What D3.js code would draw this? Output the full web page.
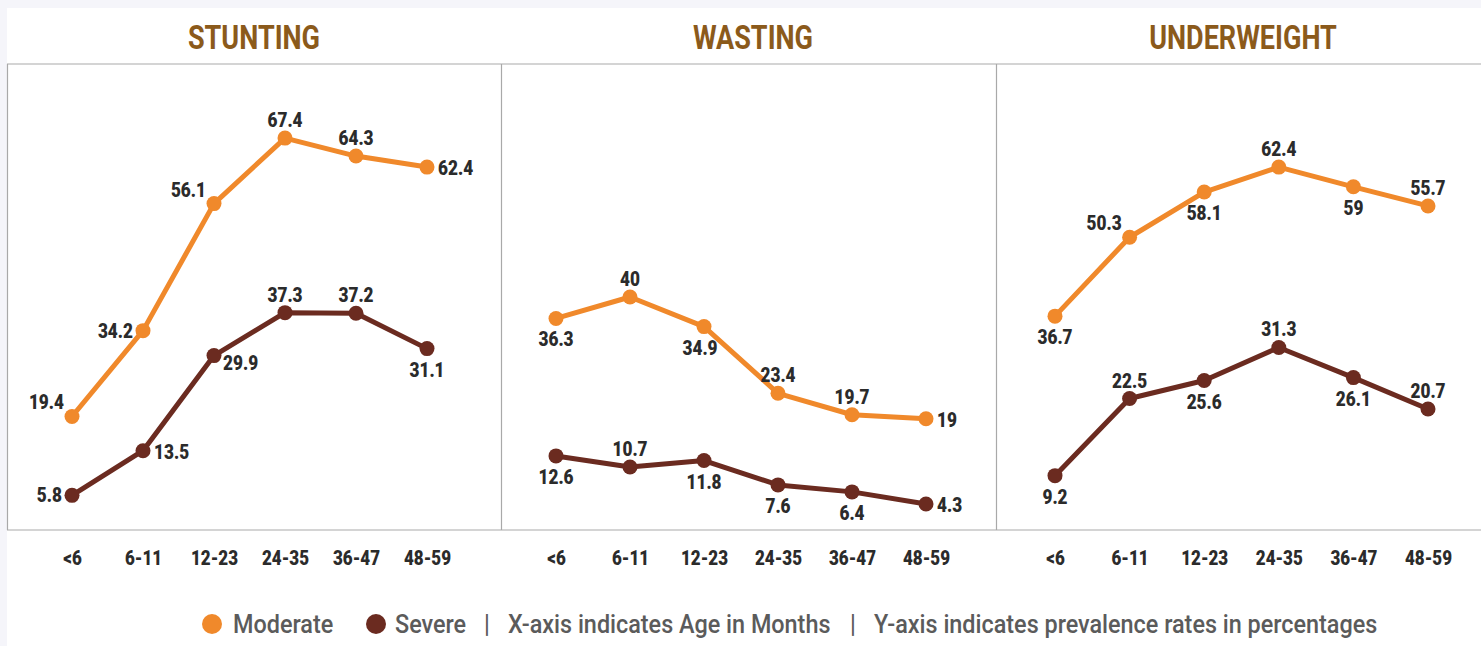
<!DOCTYPE html>
<html>
<head>
<meta charset="utf-8">
<script src="https://cdn.jsdelivr.net/npm/d3@7"></script>
<style>
  html, body { margin: 0; padding: 0; background: #f5f5fa; }
  svg { display: block; }
</style>
</head>
<body>
<svg id="chart" width="1481" height="646"></svg>
<script>
// age groups (months)
const ageGroups = ["<6", "6-11", "12-23", "24-35", "36-47", "48-59"]

const panelTitles = ["STUNTING", "WASTING", "UNDERWEIGHT"]

const stuntingModerate = [19.4, 34.2, 56.1, 67.4, 64.3, 62.4]
const stuntingSevere = [5.8, 13.5, 29.9, 37.3, 37.2, 31.1]
const wastingModerate = [36.3, 40, 34.9, 23.4, 19.7, 19]
const wastingSevere = [12.6, 10.7, 11.8, 7.6, 6.4, 4.3]
const underweightModerate = [36.7, 50.3, 58.1, 62.4, 59, 55.7]
const underweightSevere = [9.2, 22.5, 25.6, 31.3, 26.1, 20.7]

// where each value label sits relative to its dot
const stuntingModLabels = ["al", "l", "al", "a", "a", "r"]
const stuntingSevLabels = ["l", "r", "br", "a", "a", "b"]
const wastingModLabels = ["b", "a", "bl", "a", "a", "r"]
const wastingSevLabels = ["b", "a", "b", "b", "b", "r"]
const underweightModLabels = ["b", "al", "b", "a", "b", "a"]
const underweightSevLabels = ["b", "a", "b", "a", "b", "a"]

const panels = [
    {title: panelTitles[0], x0: 7, x1: 501, cx: 254, pad: [65, 74], series: [
        {name: "Moderate", values: stuntingModerate, labels: stuntingModLabels},
        {name: "Severe", values: stuntingSevere, labels: stuntingSevLabels}]},
    {title: panelTitles[1], x0: 501, x1: 996, cx: 753, pad: [55, 70], series: [
        {name: "Moderate", values: wastingModerate, labels: wastingModLabels},
        {name: "Severe", values: wastingSevere, labels: wastingSevLabels}]},
    {title: panelTitles[2], x0: 996, x1: 1481, cx: 1243, pad: [59, 53], series: [
        {name: "Moderate", values: underweightModerate, labels: underweightModLabels},
        {name: "Severe", values: underweightSevere, labels: underweightSevLabels}]}
]

const colors = {Moderate: "#f0892b", Severe: "#6b2b20"}
const font = "Roboto, 'Open Sans', sans-serif"

const svg = d3.select("#chart")
const plotTop = 64, plotBottom = 530

svg.append("rect")
    .attr("x", 7).attr("y", 8)
    .attr("width", 1481 - 7).attr("height", 646 - 8)
    .attr("fill", "#fff")

// condensed-looking text: draw normally then squeeze horizontally
function label (g, x, y, text, opts) {
    const o = Object.assign({size: 20, weight: 900, fill: "#2b2b2b", anchor: "middle", sx: 0.86}, opts)
    return g.append("g")
        .attr("transform", "translate(" + x + "," + y + ") scale(" + o.sx + ",1)")
        .append("text")
        .attr("text-anchor", o.anchor)
        .attr("font-family", font)
        .attr("font-size", o.size)
        .attr("font-weight", o.weight)
        .attr("fill", o.fill)
        .text(text)
}

const y = d3.scaleLinear().domain([0, 80]).range([plotBottom - 1, plotTop + 1])

const offsets = {
    a: [0, -11, "middle"], b: [0, 28, "middle"], l: [-10, 7, "end"], r: [11, 8, "start"],
    al: [-8, -7, "end"], bl: [-4, 28, "middle"], br: [9, 14, "start"]
}

// frame
const frame = svg.append("g").attr("stroke", "#a9a9a9").attr("stroke-width", 1.2).attr("fill", "none")
frame.append("line").attr("x1", 7).attr("x2", 1481).attr("y1", plotTop).attr("y2", plotTop)
frame.append("line").attr("x1", 7).attr("x2", 1481).attr("y1", plotBottom).attr("y2", plotBottom)
;[7.5, 501.5, 996.5].forEach(x => {
    frame.append("line").attr("x1", x).attr("x2", x).attr("y1", plotTop).attr("y2", plotBottom)
})

panels.forEach(p => {
    const g = svg.append("g")
    const x = d3.scalePoint().domain(ageGroups)
        .range([p.x0 + p.pad[0], p.x1 - p.pad[1]])

    label(g, p.cx, 49, p.title, {size: 33, weight: 700, fill: "#8b5a1b", sx: 0.82})

    // x axis labels
    const axis = g.append("g")
        .attr("transform", "translate(0," + plotBottom + ")")
        .call(d3.axisBottom(x).tickSize(0).tickPadding(0))
    axis.select(".domain").remove()
    axis.selectAll(".tick text").remove()
    axis.selectAll(".tick").each(function (d) {
        label(d3.select(this), 0, 35, d, {size: 20, sx: 0.85})
    })

    const line = d3.line().x((d, k) => x(ageGroups[k])).y(d => y(d))

    p.series.forEach(s => {
        g.append("path")
            .datum(s.values)
            .attr("d", line)
            .attr("fill", "none")
            .attr("stroke", colors[s.name])
            .attr("stroke-width", 5)
            .attr("stroke-linejoin", "round")

        g.selectAll(null)
            .data(s.values)
            .enter().append("circle")
            .attr("cx", (d, k) => x(ageGroups[k]))
            .attr("cy", d => y(d))
            .attr("r", 7.5)
            .attr("fill", colors[s.name])

        s.values.forEach((v, k) => {
            const off = offsets[s.labels[k]]
            label(g, x(ageGroups[k]) + off[0], y(v) + off[1], v, {anchor: off[2]})
        })
    })
})

// legend
const legend = svg.append("g")
const ly = 624
const legendText = {size: 26, weight: 500, fill: "#5b5b5b", anchor: "start", sx: 0.9}
legend.append("circle").attr("cx", 212).attr("cy", ly).attr("r", 10).attr("fill", colors.Moderate)
label(legend, 233, ly + 9, "Moderate", legendText)
legend.append("circle").attr("cx", 376).attr("cy", ly).attr("r", 10).attr("fill", colors.Severe)
label(legend, 395, ly + 9, "Severe", legendText)
label(legend, 487, ly + 9, "|", Object.assign({}, legendText, {anchor: "middle"}))
label(legend, 508, ly + 9, "X-axis indicates Age in Months", legendText)
label(legend, 853, ly + 9, "|", Object.assign({}, legendText, {anchor: "middle"}))
label(legend, 874, ly + 9, "Y-axis indicates prevalence rates in percentages", legendText)
</script>
</body>
</html>
